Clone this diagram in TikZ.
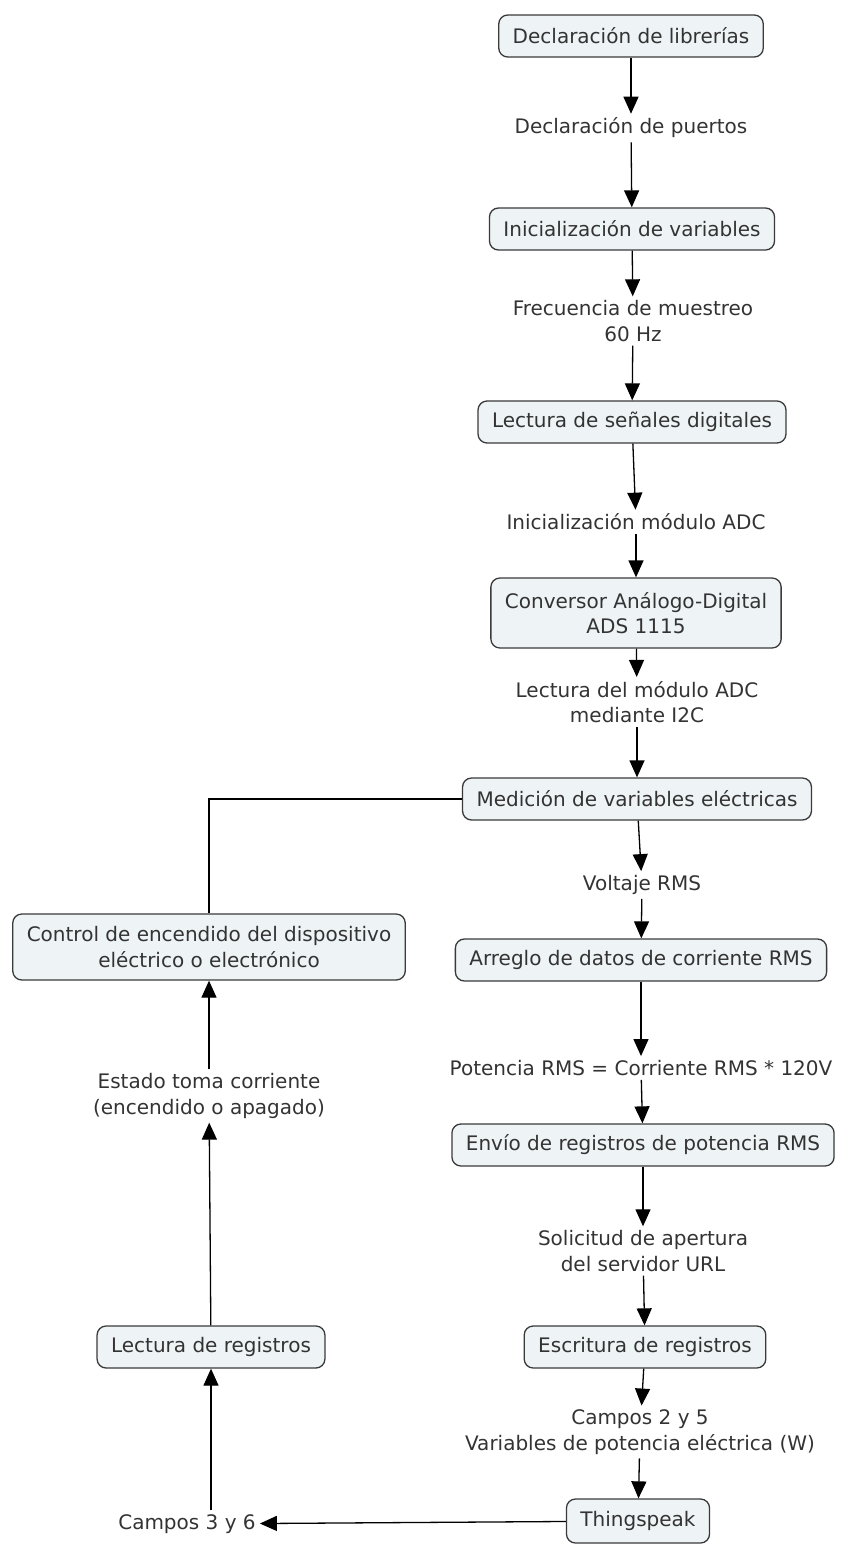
\documentclass[tikz,border=0pt]{standalone}
\usepackage{fontspec}
\setmainfont{DejaVu Sans}
\usetikzlibrary{arrows.meta}
\definecolor{boxfill}{HTML}{EEF3F6}
\definecolor{boxline}{HTML}{3A3A3A}
\definecolor{txt}{HTML}{333333}
\begin{document}
\begin{tikzpicture}[x=1pt,y=-1pt,
 box/.style={draw=boxline, fill=boxfill, rounded corners=9pt, line width=1.3pt, inner xsep=14pt, inner ysep=4pt, minimum height=42pt, align=center, text=txt, font=\fontsize{20}{25.5}\selectfont},
 lbl/.style={inner sep=4pt, align=center, text=txt, font=\fontsize{20}{25.5}\selectfont},
 arr/.style={-{Triangle[width=15pt,length=17pt]}, line width=1.3pt, draw=black},
 plain/.style={line width=1.3pt, draw=black}]
\useasboundingbox (0,0) rectangle (845,1545);
\node[box] (b1) at (631,36) {Declaración de librerías};
\node[lbl] (l1) at (631,128) {Declaración de puertos};
\node[box] (b2) at (632,229) {Inicialización de variables};
\node[lbl] (l2) at (633,321) {Frecuencia de muestreo\\60 Hz};
\node[box] (b3) at (632,422) {Lectura de señales digitales};
\node[lbl] (l3) at (636,522) {Inicialización módulo ADC};
\node[box, minimum height=70pt] (b4) at (636,613) {Conversor Análogo-Digital\\ADS 1115};
\node[lbl] (l4) at (637,702) {Lectura del módulo ADC\\mediante I2C};
\node[box] (b5) at (637,799) {Medición de variables eléctricas};
\node[lbl] (l5) at (642,885) {Voltaje RMS};
\node[box] (b6) at (641,960) {Arreglo de datos de corriente RMS};
\node[lbl] (l6) at (641,1068) {Potencia RMS = Corriente RMS * 120V};
\node[box] (b7) at (643,1145) {Envío de registros de potencia RMS};
\node[lbl] (l7) at (643,1251) {Solicitud de apertura\\del servidor URL};
\node[box] (b8) at (645,1347) {Escritura de registros};
\node[lbl] (l8) at (640,1432) {Campos 2 y 5\\Variables de potencia eléctrica (W)};
\node[box, minimum height=44pt] (b9) at (638,1521) {Thingspeak};
\node[lbl] (l9) at (187,1524) {Campos 3 y 6};
\node[box] (b10) at (211,1347) {Lectura de registros};
\node[lbl] (l10) at (209,1096) {Estado toma corriente\\(encendido o apagado)};
\node[box, minimum height=66pt] (b11) at (209,947) {Control de encendido del dispositivo\\eléctrico o electrónico};
\draw[arr] (b1) -- (l1);
\draw[arr] (l1) -- (b2);
\draw[arr] (b2) -- (l2);
\draw[arr] (l2) -- (b3);
\draw[arr] (b3) -- (l3);
\draw[arr] (l3) -- (b4);
\draw[arr] (b4) -- (l4);
\draw[arr] (l4) -- (b5);
\draw[arr] (b5) -- (l5);
\draw[arr] (l5) -- (b6);
\draw[arr] (b6) -- (l6);
\draw[arr] (l6) -- (b7);
\draw[arr] (b7) -- (l7);
\draw[arr] (l7) -- (b8);
\draw[arr] (b8) -- (l8);
\draw[arr] (l8) -- (b9);
\draw[arr] (b9) -- (l9);
\draw[arr] (l9.north -| b10.south) -- (b10.south);
\draw[arr] (b10) -- (l10);
\draw[arr] (l10) -- (b11);
\draw[plain] (b11.north) |- (b5.west);
\end{tikzpicture}
\end{document}
